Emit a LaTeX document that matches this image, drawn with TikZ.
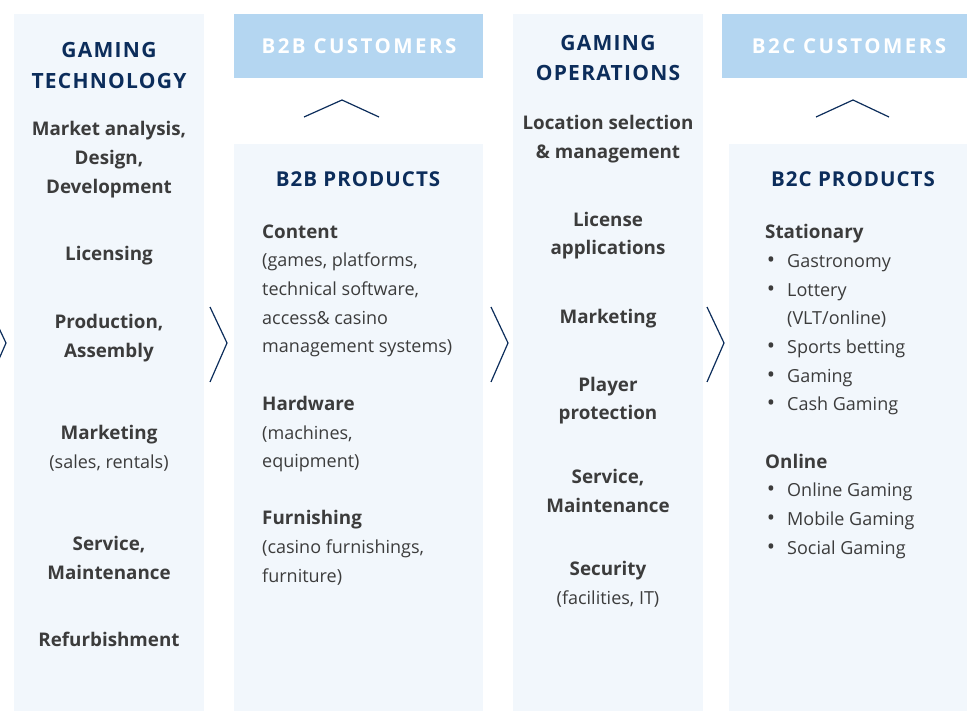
\documentclass[tikz,border=0pt]{standalone}
\usepackage{fontspec}
\setmainfont{Open Sans}
\definecolor{panel}{HTML}{F2F7FC}
\definecolor{hdrbox}{HTML}{B4D6F1}
\definecolor{navy}{HTML}{0C2D5B}
\definecolor{txt}{HTML}{3C3C3C}
\tikzset{
  colhead/.style={font=\bfseries\fontsize{21}{24}\selectfont\addfontfeature{LetterSpace=6}, text=navy, anchor=mid, yshift=-5pt},
  custhead/.style={font=\bfseries\fontsize{20.5}{24}\selectfont\addfontfeature{LetterSpace=12}, text=white, anchor=mid, yshift=-5pt},
  prodhead/.style={font=\bfseries\fontsize{20.5}{24}\selectfont\addfontfeature{LetterSpace=5}, text=navy, anchor=mid, yshift=-5pt},
  bitem/.style={font=\bfseries\fontsize{18.8}{22}\selectfont, text=txt, anchor=mid, inner sep=0pt, yshift=-5pt},
  ritem/.style={font=\fontsize{18}{22}\selectfont, text=txt, anchor=mid, inner sep=0pt, yshift=-5pt},
  lb/.style={bitem, anchor=mid west},
  lr/.style={ritem, anchor=mid west},
  bul/.style={font=\fontsize{22}{22}\selectfont, text=txt, anchor=mid, inner sep=0pt, yshift=-5pt},
  chev/.style={draw=navy, line width=1.2pt},
}
\begin{document}
\begin{tikzpicture}[x=1pt,y=-1pt]
\useasboundingbox (0,0) rectangle (967,711);
\begin{scope}
\clip (0,0) rectangle (967,711);
% panels
\fill[panel] (14,14) rectangle (204,711);
\fill[hdrbox] (234,14) rectangle (483,78);
\fill[panel] (234,144) rectangle (483,711);
\fill[panel] (513,14) rectangle (703,711);
\fill[hdrbox] (722,14) rectangle (975,78);
\fill[panel] (729,144) rectangle (975,711);
% chevrons
\draw[chev] (-11,307) -- (6,343) -- (-11,382);
\draw[chev] (210,307) -- (227,343) -- (210,382);
\draw[chev] (491,307) -- (508,343) -- (491,382);
\draw[chev] (707,307) -- (724,343) -- (707,382);
\draw[chev] (304,117) -- (342,100) -- (379,117);
\draw[chev] (816,117) -- (853,100) -- (889,117);
\end{scope}
% column 1
\node[colhead] (h1a) at (109,50) {GAMING};
\node[colhead] (h1b) at (109,81) {TECHNOLOGY};
\node[bitem] (a1) at (109,128) {Market analysis,};
\node[bitem] (a2) at (109,157) {Design,};
\node[bitem] (a3) at (109,186) {Development};
\node[bitem] (a4) at (109,253) {Licensing};
\node[bitem] (a5) at (109,321) {Production,};
\node[bitem] (a6) at (109,350) {Assembly};
\node[bitem] (a7) at (109,432) {Marketing};
\node[ritem] (a8) at (109,461) {(sales, rentals)};
\node[bitem] (a9) at (109,543) {Service,};
\node[bitem] (a10) at (109,572) {Maintenance};
\node[bitem] (a11) at (109,639) {Refurbishment};
% B2B
\node[custhead] (h2) at (359,46) {B2B CUSTOMERS};
\node[prodhead] (p2) at (358,179) {B2B PRODUCTS};
\node[lb] (b1) at (262,231) {Content};
\node[lr] (b2) at (262,259) {(games, platforms,};
\node[lr] (b3) at (262,288) {technical software,};
\node[lr] (b4) at (262,317) {access\& casino};
\node[lr] (b5) at (262,345) {management systems)};
\node[lb] (b6) at (262,403) {Hardware};
\node[lr] (b7) at (262,432) {(machines,};
\node[lr] (b8) at (262,460) {equipment)};
\node[lb] (b9) at (262,517) {Furnishing};
\node[lr] (b10) at (262,546) {(casino furnishings,};
\node[lr] (b11) at (262,575) {furniture)};
% column 3
\node[colhead] (h3a) at (608,43) {GAMING};
\node[colhead] (h3b) at (608,73) {OPERATIONS};
\node[bitem] (c1) at (608,122) {Location selection};
\node[bitem] (c2) at (608,151) {\& management};
\node[bitem] (c3) at (608,219) {License};
\node[bitem] (c4) at (608,247) {applications};
\node[bitem] (c5) at (608,316) {Marketing};
\node[bitem] (c6) at (608,384) {Player};
\node[bitem] (c7) at (608,412) {protection};
\node[bitem] (c8) at (608,476) {Service,};
\node[bitem] (c9) at (608,505) {Maintenance};
\node[bitem] (c10) at (608,568) {Security};
\node[ritem] (c11) at (608,597) {(facilities, IT)};
% B2C
\node[custhead] (h4) at (849,46) {B2C CUSTOMERS};
\node[prodhead] (p4) at (853,179) {B2C PRODUCTS};
\node[lb] (d1) at (765,231) {Stationary};
\node[bul] (db1) at (771,260) {•};
\node[lr] (d2) at (787,260) {Gastronomy};
\node[bul] (db2) at (771,289) {•};
\node[lr] (d3) at (787,289) {Lottery};
\node[lr] (d4) at (787,317) {(VLT/online)};
\node[bul] (db3) at (771,346) {•};
\node[lr] (d5) at (787,346) {Sports betting};
\node[bul] (db4) at (771,375) {•};
\node[lr] (d6) at (787,375) {Gaming};
\node[bul] (db5) at (771,403) {•};
\node[lr] (d7) at (787,403) {Cash Gaming};
\node[lb] (d8) at (765,461) {Online};
\node[bul] (db6) at (771,489) {•};
\node[lr] (d9) at (787,489) {Online Gaming};
\node[bul] (db7) at (771,518) {•};
\node[lr] (d10) at (787,518) {Mobile Gaming};
\node[bul] (db8) at (771,547) {•};
\node[lr] (d11) at (787,547) {Social Gaming};
\end{tikzpicture}
\end{document}
